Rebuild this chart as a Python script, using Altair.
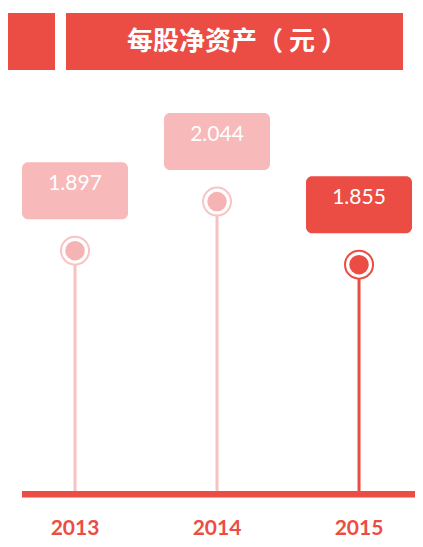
import altair as alt
import pandas as pd

# ---- data ----
years = [2013, 2014, 2015]
values = [1.897, 2.044, 1.855]
value_labels = ["1.897", "2.044", "1.855"]
year_labels = ["2013", "2014", "2015"]
title_text = "每股净资产（ 元 ）"

# ---- styles ----
RED = "#EB4C44"
PINK_BOX = "#F7B9B9"
PINK_FILL = "#F5B3B3"
PINK_RING = "#F8C4C4"
PINK_STEM = "#F8C2C2"

W, H = 407, 531
PX_PER_UNIT = 333.7
V_TOP = 2.6242

df = pd.DataFrame({"year": years, "value": values,
                   "vlabel": value_labels, "ylabel": year_labels})
tdf = pd.DataFrame({"t": [title_text]})

xs = alt.Scale(domain=[2012.528, 2012.528 + W / 142.0], nice=False, zero=False)
ys = alt.Scale(domain=[V_TOP - H / PX_PER_UNIT, V_TOP], nice=False, zero=False)
X = alt.X("year:Q", scale=xs, axis=None)
Y = alt.Y("value:Q", scale=ys, axis=None)
hi = alt.datum.year == 2015


def cond(light):
    return alt.condition(hi, alt.value(RED), alt.value(light))


square = alt.Chart(tdf).mark_rect(color=RED).encode(
    x=alt.value(0), x2=alt.value(47), y=alt.value(5), y2=alt.value(62))
banner = alt.Chart(tdf).mark_rect(color=RED).encode(
    x=alt.value(58), x2=alt.value(395), y=alt.value(5), y2=alt.value(62))
title = alt.Chart(tdf).mark_text(
    color="white", font="Noto Sans CJK SC", fontSize=26, fontWeight="bold",
    align="center", baseline="middle").encode(
    x=alt.value(229), y=alt.value(34), text="t:N")

baseline = alt.Chart(tdf).mark_rect(color=RED).encode(
    x=alt.value(14), x2=alt.value(W), y=alt.value(483), y2=alt.value(489.5))

base = alt.Chart(df)
stems = base.mark_rule(strokeWidth=3).encode(
    x=X, y=Y, y2=alt.value(483), color=cond(PINK_STEM))
rings = base.mark_point(shape="circle", fill="white", fillOpacity=1,
                        strokeWidth=2, size=784, opacity=1).encode(
    x=X, y=Y, stroke=cond(PINK_RING))
dots = base.mark_circle(size=380, opacity=1).encode(
    x=X, y=Y, color=cond(PINK_FILL))
boxes = base.mark_rect(width=106, height=57, cornerRadius=6, yOffset=-60).encode(
    x=X, y=Y, color=cond(PINK_BOX))
vtext = base.mark_text(color="white", font="Lato", fontSize=21,
                       align="center", baseline="middle", dy=-67).encode(
    x=X, y=Y, text="vlabel:N")
ytext = base.mark_text(color=RED, font="Lato", fontSize=21, fontWeight="bold",
                       align="center", baseline="bottom").encode(
    x=X, y=alt.value(H), text="ylabel:N")

chart = alt.layer(square, banner, title, baseline, stems, rings, dots,
                  boxes, vtext, ytext).properties(
    width=W, height=H, padding=0,
    autosize=alt.AutoSizeParams(type="none"),
    background="white",
).configure_view(stroke=None)

chart.save("out.html", embed_options={"renderer": "svg", "actions": False})
